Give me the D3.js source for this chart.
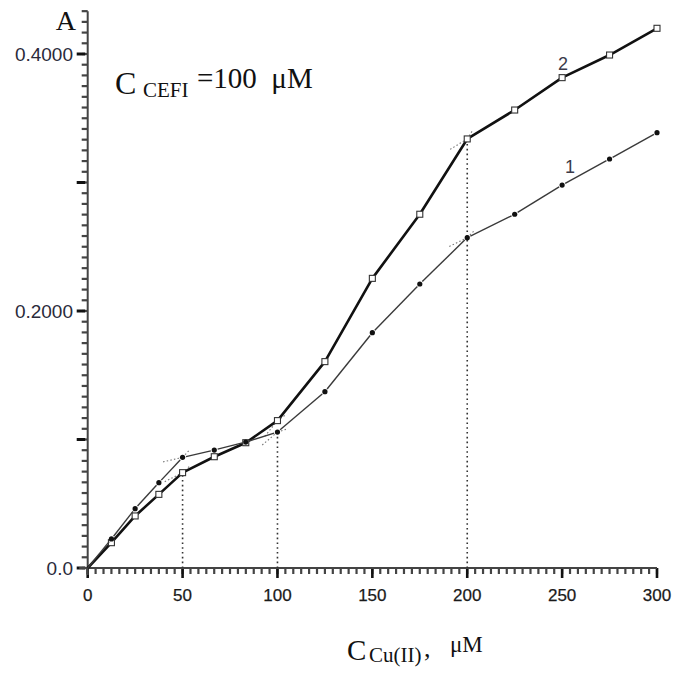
<!DOCTYPE html>
<html><head><meta charset="utf-8">
<script src="https://cdn.jsdelivr.net/npm/d3@7"></script>
<style>body{margin:0;background:#fff}svg{display:block}</style>
</head><body>
<svg id="c" width="675" height="673"></svg>
<script>
// Cu(II) concentration, µM
const concCu = [0, 12.5, 25, 37.5, 50, 66.7, 83.3, 100, 125, 150, 175, 200, 225, 250, 275, 300];
// absorbance, curve 1 (filled dots)
const absorb1 = [0, 0.0226, 0.0462, 0.0664, 0.0861, 0.0918, 0.0980, 0.1058, 0.1372, 0.1831, 0.2210, 0.2571, 0.2753, 0.2980, 0.3183, 0.3388];
// absorbance, curve 2 (open squares)
const absorb2 = [0, 0.0197, 0.0405, 0.0573, 0.0742, 0.0866, 0.0975, 0.1147, 0.1606, 0.2254, 0.2753, 0.3339, 0.3564, 0.3816, 0.3992, 0.4200];
const xMajorTicks = [0, 50, 100, 150, 200, 250, 300];
const yMajorTicks = [0, 0.1, 0.2, 0.3, 0.4];
const yLabelTicks = [0, 0.2, 0.4];
const yLabelText = ["0.0", "0.2000", "0.4000"];
// break points of the titration curves and the curve each drop line reaches
const breakPoints = [50, 100, 200];
const dropSeries = [2, 1, 2];

const svg = d3.select("#c");
const x = d3.scaleLinear().domain([0, 300]).range([87.7, 657]);
const y = d3.scaleLinear().domain([0, 0.4]).range([568, 54]);
const axisColor = "#444";

// minor ticks: 12 per major interval
const xMinor = d3.range(0, 73).map(i => i * 50 / 12);
const yMinor = d3.range(0, 53).map(i => i * 0.1 / 12);

const x0 = x(0), y0 = y(0);
svg.append("g").attr("class", "x-minor").selectAll("line").data(xMinor).join("line")
  .attr("x1", d => x(d)).attr("x2", d => x(d)).attr("y1", y0).attr("y2", y0 + 6)
  .attr("stroke", axisColor).attr("stroke-width", 2.2);
svg.append("g").attr("class", "x-major").selectAll("line").data(xMajorTicks).join("line")
  .attr("x1", d => x(d)).attr("x2", d => x(d)).attr("y1", y0).attr("y2", y0 + 10)
  .attr("stroke", "#111").attr("stroke-width", 2.6);
svg.append("g").attr("class", "y-minor").selectAll("line").data(yMinor).join("line")
  .attr("x1", x0 - 6).attr("x2", x0).attr("y1", d => y(d)).attr("y2", d => y(d))
  .attr("stroke", axisColor).attr("stroke-width", 2.2);
svg.append("g").attr("class", "y-major").selectAll("line").data(yMajorTicks).join("line")
  .attr("x1", x0 - 11).attr("x2", x0 - 2.5).attr("y1", d => y(d)).attr("y2", d => y(d))
  .attr("stroke", "#111").attr("stroke-width", 3);

// axis lines
svg.append("line").attr("x1", x(-4.5)).attr("x2", x(300)).attr("y1", y0).attr("y2", y0)
  .attr("stroke", axisColor).attr("stroke-width", 2);
svg.append("line").attr("x1", x0).attr("x2", x0).attr("y1", y(-0.0055)).attr("y2", y(0.4333))
  .attr("stroke", axisColor).attr("stroke-width", 2);

// tick labels
svg.append("g").selectAll("text").data(xMajorTicks).join("text")
  .attr("x", d => x(d)).attr("y", 601).attr("text-anchor", "middle")
  .attr("font-family", "Liberation Sans, Arial, sans-serif").attr("font-size", 17).attr("fill", "#1a1a1a")
  .attr("stroke", "#1a1a1a").attr("stroke-width", 0.25)
  .text(d => d);
svg.append("g").selectAll("text").data(yLabelTicks).join("text")
  .attr("x", 73).attr("y", d => y(d) + 7).attr("text-anchor", "end")
  .attr("font-family", "Liberation Sans, Arial, sans-serif").attr("font-size", 19).attr("fill", "#2a2a3a")
  .text((d, i) => yLabelText[i]);

// vertical drop lines at the break points
breakPoints.forEach((b, k) => {
  const i = concCu.indexOf(b);
  const top = dropSeries[k] === 1 ? absorb1[i] : absorb2[i];
  svg.append("line").attr("x1", x(b)).attr("x2", x(b)).attr("y1", y0).attr("y2", y(top))
    .attr("stroke", "#333").attr("stroke-width", 1.6).attr("stroke-dasharray", "1.6,3.2");
});

// dotted tangent extensions of the linear segments around each break point
function tangents(vals) {
  breakPoints.forEach(b => {
    const i = concCu.indexOf(b);
    const P = j => [x(concCu[j]), y(vals[j])];
    const [px, py] = P(i);
    const ext = (a, c, len) => {
      const dx = c[0] - a[0], dy = c[1] - a[1], L = Math.hypot(dx, dy);
      return [px + dx / L * len, py + dy / L * len];
    };
    const fwd = ext(P(i - 1), P(i), 11);
    const back = ext(P(i + 1), P(i), 20);
    [fwd, back].forEach(e => svg.append("line")
      .attr("x1", px).attr("y1", py).attr("x2", e[0]).attr("y2", e[1])
      .attr("stroke", "#777").attr("stroke-width", 1.1).attr("stroke-dasharray", "1.5,2.2"));
  });
}
tangents(absorb1);
tangents(absorb2);

// curve 2: bold line with open squares
const pts2 = concCu.map((c, i) => [c, absorb2[i]]);
svg.append("path").datum(pts2)
  .attr("d", d3.line().x(d => x(d[0])).y(d => y(d[1])))
  .attr("fill", "none").attr("stroke", "#111").attr("stroke-width", 2.6).attr("stroke-linejoin", "round");
svg.append("g").selectAll("rect").data(pts2.slice(1)).join("rect")
  .attr("x", d => x(d[0]) - 3).attr("y", d => y(d[1]) - 3).attr("width", 6).attr("height", 6)
  .attr("fill", "#fff").attr("stroke", "#333").attr("stroke-width", 1.1);

// curve 1: thin line broken at each filled dot
const pts1 = concCu.map((c, i) => [x(c), y(absorb1[i])]);
const seg = svg.append("g");
for (let i = 0; i < pts1.length - 1; i++) {
  const a = pts1[i], b = pts1[i + 1];
  const dx = b[0] - a[0], dy = b[1] - a[1], L = Math.hypot(dx, dy);
  const g0 = i === 0 ? 0 : 3.5, g1 = 3.5;
  seg.append("line")
    .attr("x1", a[0] + dx / L * g0).attr("y1", a[1] + dy / L * g0)
    .attr("x2", b[0] - dx / L * g1).attr("y2", b[1] - dy / L * g1)
    .attr("stroke", "#3a3a3a").attr("stroke-width", 1.4);
}
svg.append("g").selectAll("circle").data(pts1.slice(1)).join("circle")
  .attr("cx", d => d[0]).attr("cy", d => d[1]).attr("r", 2.6).attr("fill", "#111");

// curve numbers
svg.append("text").attr("x", 563).attr("y", 70).attr("text-anchor", "middle")
  .attr("font-family", "Liberation Sans, Arial, sans-serif").attr("font-size", 18).attr("fill", "#3a3a4a").text("2");
svg.append("text").attr("x", 570).attr("y", 173).attr("text-anchor", "middle")
  .attr("font-family", "Liberation Sans, Arial, sans-serif").attr("font-size", 18).attr("fill", "#3a3a4a").text("1");

// axis title A and the ligand concentration note
const serif = "Liberation Serif, Times New Roman, serif";
svg.append("text").attr("x", 76).attr("y", 30).attr("text-anchor", "end")
  .attr("font-family", serif).attr("font-size", 28).attr("fill", "#111").text("A");

const note = svg.append("text").attr("font-family", serif).attr("fill", "#111");
note.append("tspan").attr("x", 115).attr("y", 94).attr("font-size", 32).text("C");
note.append("tspan").attr("x", 143).attr("y", 97).attr("font-size", 21).text("CEFI");
note.append("tspan").attr("x", 197).attr("y", 88).attr("font-size", 29).text("=100\u00a0\u00a0\u03bcM");

const xt = svg.append("text").attr("font-family", serif).attr("fill", "#111");
xt.append("tspan").attr("x", 347).attr("y", 660).attr("font-size", 29).text("C");
xt.append("tspan").attr("x", 369).attr("y", 662).attr("font-size", 21).text("Cu(II)");
xt.append("tspan").attr("x", 424).attr("y", 657).attr("font-size", 26).text(",");
xt.append("tspan").attr("x", 450).attr("y", 652).attr("font-size", 23).text("\u03bcM");
</script>
</body></html>
